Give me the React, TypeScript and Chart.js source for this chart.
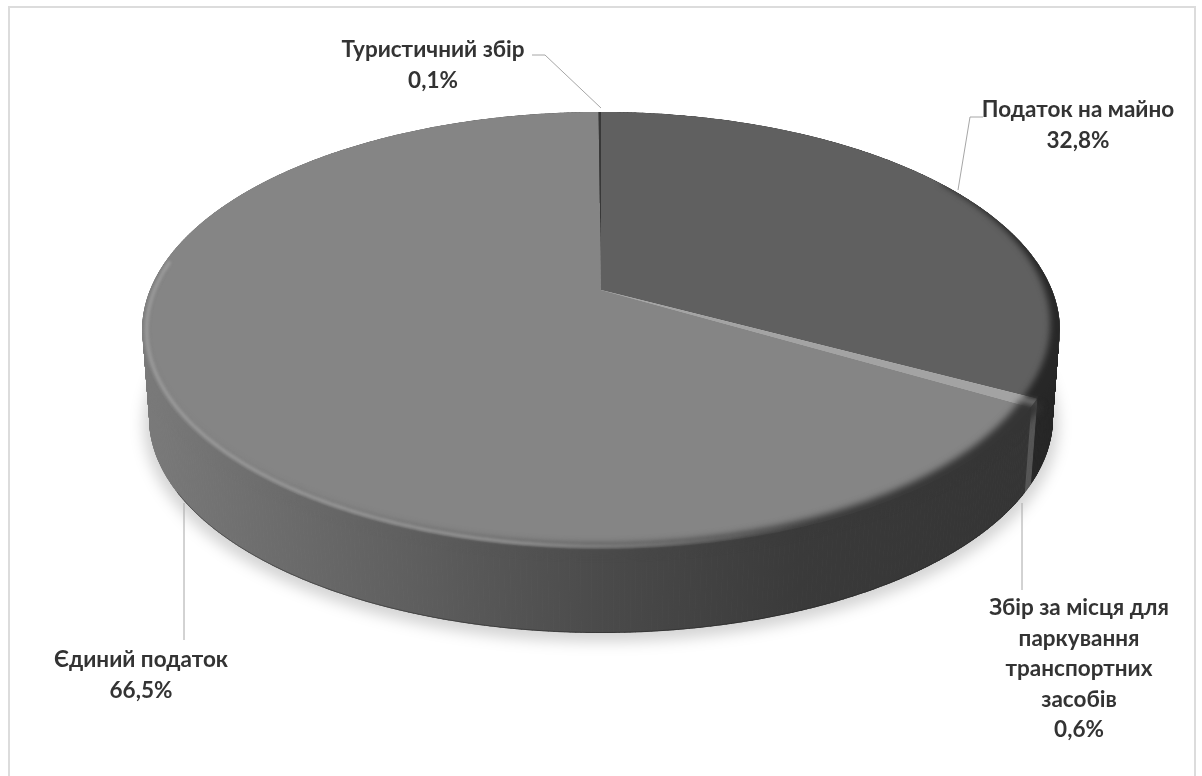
import React, { useEffect, useRef } from "react";
import { Chart, registerables } from "chart.js";

Chart.register(...registerables);

// Shares of local tax revenue, in per cent, clockwise from twelve o'clock.
const categories = [
  "Податок на майно",
  "Збір за місця для паркування транспортних засобів",
  "Єдиний податок",
  "Туристичний збір",
];
const shares = [32.8, 0.6, 66.5, 0.1];
const faceColors = ["#606060", "#a3a3a3", "#858585", "#383838"];
const labelLines = [
  ["Податок на майно"],
  ["Збір за місця для", "паркування", "транспортних", "засобів"],
  ["Єдиний податок"],
  ["Туристичний збір"],
];

const W = 1202;
const H = 776;

// Perspective disc: the apex sits above the centre of the projected ellipse.
const CX = 601;
const CY = 290;
const TILT = 0.185;
const SPAN_X = 451;
const SPAN_Y = 211;
const DEPTH = 88;
const BASE_SCALE = 0.985;
// Angle at which the projected rim reaches its widest point
const WIDEST = Math.asin(TILT);

type Pt = [number, number];

function project(a: number, depth = 0, scale = 1): Pt {
  const u = Math.cos(a);
  const v = Math.sin(a);
  const w = 1 - TILT * v;
  return [CX + (scale * SPAN_X * u) / w, CY + depth + (scale * SPAN_Y * v) / w];
}

function rim(ctx: CanvasRenderingContext2D, from: number, to: number, depth = 0, scale = 1, move = false) {
  const steps = Math.max(2, Math.ceil(Math.abs(to - from) / 0.01));
  for (let i = 0; i <= steps; i++) {
    const p = project(from + ((to - from) * i) / steps, depth, scale);
    if (i === 0 && move) ctx.moveTo(p[0], p[1]);
    else ctx.lineTo(p[0], p[1]);
  }
}

const rad = (d: number) => (d * Math.PI) / 180;

function silhouette(ctx: CanvasRenderingContext2D) {
  ctx.beginPath();
  rim(ctx, Math.PI - WIDEST, 2 * Math.PI + WIDEST, 0, 1, true);
  rim(ctx, WIDEST, Math.PI - WIDEST, DEPTH, BASE_SCALE);
  ctx.closePath();
}

function wallFill(ctx: CanvasRenderingContext2D, index: number) {
  if (index === 0) return "#272727";
  if (index === 1) return "#565656";
  if (index === 3) return "#3a3a3a";
  const g = ctx.createLinearGradient(142, 0, 1030, 0);
  g.addColorStop(0, "#7a7a7a");
  g.addColorStop(0.3, "#5f5f5f");
  g.addColorStop(0.52, "#4a4a4a");
  g.addColorStop(0.74, "#3a3a3a");
  g.addColorStop(1, "#343434");
  return g;
}

// Band along the rim whose inner edge moves from insetFrom to insetTo
function rimBand(ctx: CanvasRenderingContext2D, from: number, to: number, insetFrom: number, insetTo: number) {
  ctx.beginPath();
  rim(ctx, from, to, 0, 1.02, true);
  const steps = Math.ceil(Math.abs(to - from) / 0.01);
  for (let i = steps; i >= 0; i--) {
    const t = i / steps;
    const p = project(from + (to - from) * t, 0, 1 - (insetFrom + (insetTo - insetFrom) * t));
    ctx.lineTo(p[0], p[1]);
  }
  ctx.closePath();
}

const discPlugin = {
  id: "perspectiveDisc",
  beforeDraw(chart: any) {
    const { ctx } = chart;
    ctx.save();
    ctx.fillStyle = "#ffffff";
    ctx.fillRect(0, 0, W, H);
    ctx.strokeStyle = "#dcdcdc";
    ctx.lineWidth = 2;
    ctx.strokeRect(9, 7, 1186, 790);
    ctx.restore();
  },
  beforeDatasetsDraw(chart: any) {
    const { ctx } = chart;
    const arcs = chart.getDatasetMeta(0).data;
    ctx.save();

    // Soft shadow on the page under the disc
    ctx.save();
    ctx.filter = "blur(7px)";
    ctx.fillStyle = "rgba(0,0,0,0.17)";
    ctx.beginPath();
    rim(ctx, rad(0), rad(360), DEPTH + 6, BASE_SCALE * 1.012, true);
    ctx.closePath();
    ctx.fill();
    ctx.restore();

    // Outer wall of every slice, built as thin quads between both rims
    ctx.save();
    silhouette(ctx);
    ctx.clip();
    arcs.forEach((arc: any, i: number) => {
      const fill = wallFill(ctx, i);
      ctx.fillStyle = fill;
      ctx.strokeStyle = fill;
      ctx.lineWidth = 1;
      const steps = Math.max(2, Math.ceil((arc.endAngle - arc.startAngle) / 0.01));
      for (let s = 0; s < steps; s++) {
        const a0 = arc.startAngle + ((arc.endAngle - arc.startAngle) * s) / steps;
        const a1 = arc.startAngle + ((arc.endAngle - arc.startAngle) * (s + 1)) / steps;
        const q = [project(a0), project(a1), project(a1, DEPTH, BASE_SCALE), project(a0, DEPTH, BASE_SCALE)];
        ctx.beginPath();
        q.forEach((p, k) => (k === 0 ? ctx.moveTo(p[0], p[1]) : ctx.lineTo(p[0], p[1])));
        ctx.closePath();
        ctx.fill();
        ctx.stroke();
      }
    });
    ctx.restore();

    // Dark line along the lower edge of the wall
    ctx.strokeStyle = "rgba(30,30,30,0.4)";
    ctx.lineWidth = 1;
    ctx.beginPath();
    rim(ctx, rad(30), rad(150), DEPTH - 0.5, BASE_SCALE, true);
    ctx.stroke();

    // Top faces
    arcs.forEach((arc: any) => {
      ctx.beginPath();
      ctx.moveTo(CX, CY);
      rim(ctx, arc.startAngle, arc.endAngle);
      ctx.closePath();
      ctx.fillStyle = arc.options.backgroundColor;
      ctx.fill();
    });

    // Rounded edge where the faces turn down into the wall
    const sliceEnd = arcs[0].endAngle;
    const gapEnd = arcs[1].endAngle;
    ctx.save();
    silhouette(ctx);
    ctx.clip();

    ctx.save();
    ctx.filter = "blur(3px)";
    ctx.fillStyle = "#272727";
    rimBand(ctx, rad(-34), sliceEnd + rad(0.5), 0, 0.03);
    ctx.fill();
    ctx.restore();

    ctx.save();
    ctx.filter = "blur(3.5px)";
    ctx.fillStyle = wallFill(ctx, 2);
    rimBand(ctx, gapEnd - rad(1), rad(125), 0.03, 0.012);
    ctx.fill();
    rimBand(ctx, rad(125), rad(186), 0.012, 0);
    ctx.fill();
    ctx.restore();

    ctx.save();
    ctx.filter = "blur(1.5px)";
    const shine = ctx.createLinearGradient(142, 0, 820, 0);
    shine.addColorStop(0, "rgba(165,165,165,0.8)");
    shine.addColorStop(0.55, "rgba(165,165,165,0.8)");
    shine.addColorStop(1, "rgba(165,165,165,0)");
    ctx.strokeStyle = shine;
    ctx.lineWidth = 3;
    ctx.beginPath();
    rim(ctx, rad(50), rad(188), 0, 0.99, true);
    ctx.stroke();
    ctx.restore();
    ctx.restore();

    ctx.restore();
    return false;
  },
  afterDraw(chart: any) {
    const { ctx } = chart;
    const { leaders, anchors } = chart.options.plugins.perspectiveDisc;
    ctx.save();
    ctx.strokeStyle = "#a6a6a6";
    ctx.lineWidth = 1;
    leaders.forEach((line: Pt[]) => {
      ctx.beginPath();
      line.forEach((p, i) => (i === 0 ? ctx.moveTo(p[0], p[1]) : ctx.lineTo(p[0], p[1])));
      ctx.stroke();
    });
    ctx.font = 'bold 22.5px "Lato"';
    ctx.fillStyle = "#333333";
    ctx.textAlign = "center";
    ctx.textBaseline = "middle";
    const step = 30.5;
    chart.data.datasets[0].data.forEach((value: number, i: number) => {
      const lines = [...labelLines[i], `${value.toFixed(1).replace(".", ",")}%`];
      lines.forEach((text, row) => {
        ctx.fillText(text, anchors[i][0], anchors[i][1] + row * step);
      });
    });
    ctx.restore();
  },
};

export default function App() {
  const canvasRef = useRef<HTMLCanvasElement>(null);

  useEffect(() => {
    const chart = new Chart(canvasRef.current!, {
      type: "pie",
      data: {
        labels: categories,
        datasets: [{ data: shares, backgroundColor: faceColors, borderWidth: 0 }],
      },
      options: {
        animation: false,
        responsive: false,
        plugins: {
          legend: { display: false },
          tooltip: { enabled: false },
          perspectiveDisc: {
            anchors: [
              [1078, 110],
              [1079, 608],
              [141, 660],
              [433, 50],
            ],
            leaders: [
              [[983, 117], [970, 117], [958, 190]],
              [[1022, 503], [1022, 590]],
              [[184, 503], [184, 640]],
              [[532, 55], [545, 55], [601, 108]],
            ],
          },
        } as any,
      },
      plugins: [discPlugin as any],
    });
    return () => chart.destroy();
  }, []);

  return (
    <div style={{ position: "fixed", left: 0, top: 0, width: W, height: H, background: "#fff" }}>
      <canvas ref={canvasRef} width={W} height={H} style={{ display: "block" }} />
    </div>
  );
}
